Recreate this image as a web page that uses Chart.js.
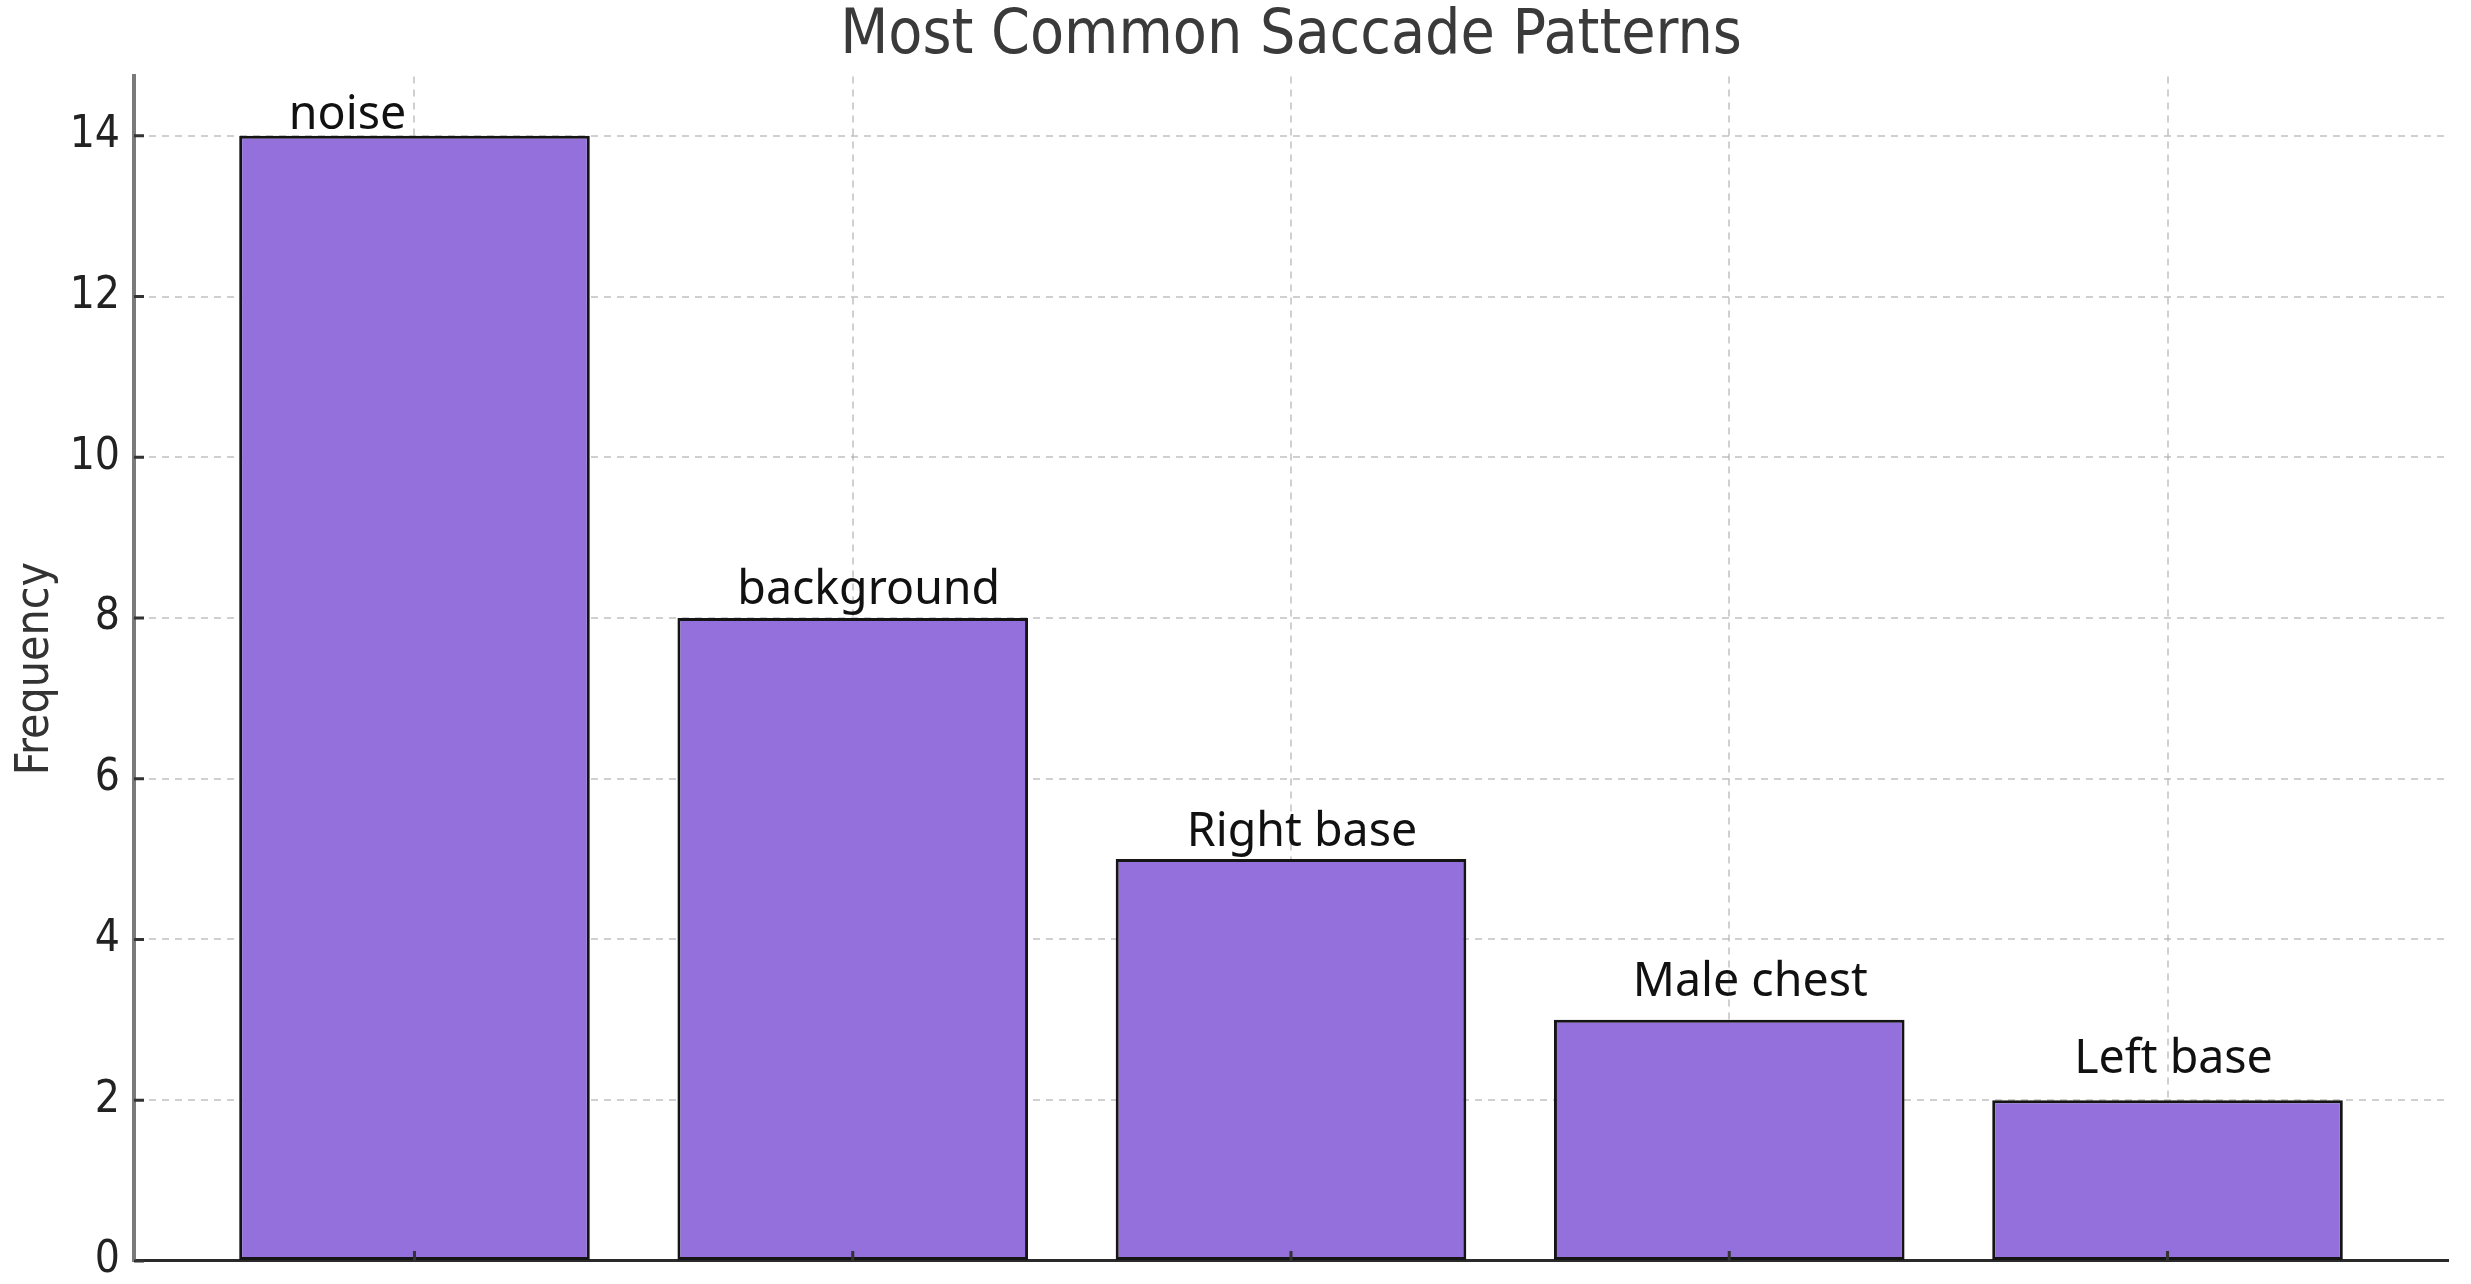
<!DOCTYPE html>
<html>
<head>
<meta charset="utf-8">
<title>Most Common Saccade Patterns</title>
<script src="https://cdn.jsdelivr.net/npm/chart.js@4.4.1/dist/chart.umd.min.js"></script>
<style>
  html, body { margin: 0; padding: 0; background: #fff; }
  #wrap { width: 2471px; height: 1284px; }
</style>
</head>
<body>
<div id="wrap"><canvas id="bar-chart" width="2471" height="1284"></canvas></div>
<script>
// data
const categories = ['noise', 'background', 'Right base', 'Male chest', 'Left base'];
const frequency = [14, 8, 5, 3, 2];
const yTicks = [0, 2, 4, 6, 8, 10, 12, 14];

const axisFont = "'DejaVu Sans Condensed', 'DejaVu Sans', sans-serif";
const gridColor = 'rgba(170,170,170,0.55)';

// category names sit above the bars, nudged a bit like in the picture
const barLabels = {
  id: 'barLabels',
  afterDraw(chart, args, opts) {
    const ctx = chart.ctx;
    const meta = chart.getDatasetMeta(0);
    ctx.save();
    ctx.font = opts.font;
    ctx.fillStyle = opts.color;
    ctx.textAlign = 'center';
    ctx.textBaseline = 'alphabetic';
    meta.data.forEach((bar, i) => {
      ctx.fillText(categories[i], bar.x + opts.dx[i], bar.y - opts.gap[i]);
    });
    ctx.restore();
  }
};

// short tick marks pointing into the plot
const innerTicks = {
  id: 'innerTicks',
  afterDraw(chart) {
    const {ctx, chartArea, scales} = chart;
    ctx.save();
    ctx.strokeStyle = '#333';
    ctx.lineWidth = 3;
    ctx.beginPath();
    scales.y.ticks.forEach(t => {
      const y = scales.y.getPixelForValue(t.value);
      ctx.moveTo(chartArea.left, y);
      ctx.lineTo(chartArea.left + 10, y);
    });
    scales.x.ticks.forEach(t => {
      const x = scales.x.getPixelForValue(t.value);
      ctx.moveTo(x, chartArea.bottom);
      ctx.lineTo(x, chartArea.bottom - 10);
    });
    ctx.stroke();
    ctx.restore();
  }
};

const config = {
  type: 'bar',
  data: {
    datasets: [{
      label: 'Frequency',
      data: frequency.map((v, i) => ({x: i, y: v})),
      backgroundColor: '#9370DB',
      borderColor: '#151515',
      borderWidth: 3,
      borderSkipped: false,
      barPercentage: 0.8,
      categoryPercentage: 1.0,
    }]
  },
  plugins: [barLabels, innerTicks],
  options: {
    responsive: false,
    animation: false,
    devicePixelRatio: 1,
    layout: {padding: {left: 0, right: 23, top: 0, bottom: 0}},
    plugins: {
      legend: {display: false},
      tooltip: {enabled: false},
      title: {
        display: true,
        fullSize: false,
        text: 'Most Common Saccade Patterns',
        color: '#3a3a3a',
        font: {family: axisFont, size: 62, weight: 'normal'},
        padding: {top: 0, bottom: 2},
      },
      barLabels: {
        font: "46.5px 'Noto Sans', 'Open Sans', sans-serif",
        color: '#111',
        dx: [-67, 16, 11, 21, 6],
        gap: [7, 14, 13, 24, 27],
      },
    },
    scales: {
      x: {
        type: 'linear',
        min: -0.64,
        max: 4.64,
        offset: false,
        z: 1,
        afterBuildTicks: s => { s.ticks = categories.map((_, i) => ({value: i})); },
        afterFit: s => { s.height = 0; },
        grid: {offset: false, color: gridColor, lineWidth: 2, drawTicks: false},
        border: {color: '#2a2a2a', width: 3, dash: [7, 6]},
        ticks: {display: false},
      },
      y: {
        type: 'linear',
        min: 0,
        max: 14.74,
        z: 1,
        afterBuildTicks: s => { s.ticks = yTicks.map(v => ({value: v})); },
        afterFit: s => { s.width = 134; },
        grid: {
          color: c => (c.tick && c.tick.value === 0 ? 'rgba(0,0,0,0)' : gridColor),
          lineWidth: 2,
          drawTicks: true,
          tickLength: 14,
          tickColor: 'rgba(0,0,0,0)',
        },
        border: {color: '#7a7a7a', width: 4, dash: [7, 6]},
        ticks: {color: '#222', font: {family: axisFont, size: 44, lineHeight: 1.05}, padding: 0},
        title: {
          display: true,
          text: 'Frequency',
          color: '#333',
          font: {family: axisFont, size: 46},
          padding: {top: 8, bottom: 0},
        },
      },
    },
  },
};

const ctx = document.getElementById('bar-chart').getContext('2d');
const barChart = new Chart(ctx, config);
window.barChart = barChart;
</script>
</body>
</html>
